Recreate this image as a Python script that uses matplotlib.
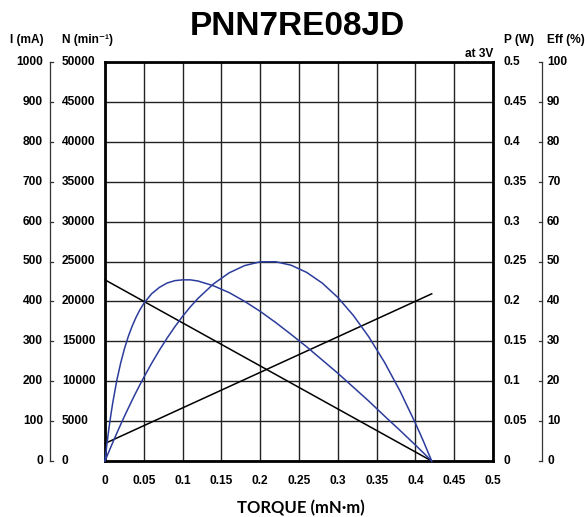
import matplotlib
matplotlib.use("Agg")
import matplotlib.pyplot as plt

# data
torque = [0, 0.0025, 0.005, 0.0075, 0.01, 0.015, 0.02, 0.025, 0.03, 0.035,
          0.04, 0.045, 0.05, 0.06, 0.07, 0.08, 0.09, 0.10,
          0.11, 0.12, 0.14, 0.16, 0.18, 0.20, 0.22, 0.24, 0.26, 0.28, 0.30,
          0.32, 0.34, 0.36, 0.38, 0.40, 0.41, 0.421]
power = [0, 0.0059, 0.0117, 0.0175, 0.0232, 0.0344, 0.0453, 0.0559, 0.0662,
         0.0763, 0.0861, 0.0955, 0.1047, 0.1223, 0.1387,
         0.1540, 0.1682, 0.1813, 0.1932, 0.2039, 0.2221, 0.2358, 0.2449,
         0.2496, 0.2497, 0.2453, 0.2363, 0.2229, 0.2050, 0.1825, 0.1555,
         0.1240, 0.0880, 0.0474, 0.0255, 0]
efficiency = [0, 4.3, 8.1, 11.5, 14.6, 20.0, 24.4, 28.1, 31.2, 33.8, 36.0,
              37.9, 39.5, 41.9, 43.5, 44.6, 45.2,
              45.4, 45.4, 45.1, 43.9, 42.2, 40.0, 37.5, 34.7, 31.7, 28.6, 25.3,
              22.0, 18.5, 15.0, 11.3, 7.7, 4.0, 2.1, 0]
line_torque = [0, 0.421]
current = [44, 419]
speed = [22700, 0]

x_ticks = [0, 0.05, 0.1, 0.15, 0.2, 0.25, 0.3, 0.35, 0.4, 0.45, 0.5]
x_labels = ["0", "0.05", "0.1", "0.15", "0.2", "0.25", "0.3", "0.35", "0.4", "0.45", "0.5"]
i_ticks = [0, 100, 200, 300, 400, 500, 600, 700, 800, 900, 1000]
n_labels = ["0", "5000", "10000", "15000", "20000", "25000", "30000", "35000", "40000", "45000", "50000"]
p_labels = ["0", "0.05", "0.1", "0.15", "0.2", "0.25", "0.3", "0.35", "0.4", "0.45", "0.5"]
eff_labels = ["0", "10", "20", "30", "40", "50", "60", "70", "80", "90", "100"]

plt.rcParams['font.family'] = ['Liberation Sans', 'DejaVu Sans']
blue = "#2c3c9c"
fs = 8.6

fig = plt.figure(figsize=(5.85, 5.17), dpi=100)
ax = fig.add_axes([105 / 585, 56 / 517, 388 / 585, 399 / 517])
ax.set_xlim(0, 0.5)
ax.set_ylim(0, 1000)

ax.set_xticks(x_ticks)
ax.set_xticklabels(x_labels, fontsize=fs, fontweight='bold')
ax.set_yticks(i_ticks)
ax.set_yticklabels([])
ax.tick_params(length=0, pad=10)
ax.grid(color="#222222", lw=1)
for s in ax.spines.values():
    s.set_linewidth(2)

# other quantities share the same grid, scaled onto the current axis
ax_n = ax.twinx()
ax_n.set_ylim(0, 50000)
ax_p = ax.twinx()
ax_p.set_ylim(0, 0.5)
ax_e = ax.twinx()
ax_e.set_ylim(0, 100)
for a in (ax_n, ax_p, ax_e):
    a.set_yticks([])
    a.axis('off')

ax.plot(line_torque, current, color="black", lw=1.1, clip_on=False)
ax_n.plot(line_torque, speed, color="black", lw=1.1, clip_on=False)
ax_p.plot(torque, power, color=blue, lw=1.1, clip_on=False)
ax_e.plot(torque, efficiency, color=blue, lw=1.1, clip_on=False)

tr = ax.get_yaxis_transform()
w = 388.0
def fx(px):
    return (px - 105) / w

for i, v in enumerate(i_ticks):
    ax.text(fx(43), v, str(v), transform=tr, ha='right', va='center',
            fontsize=fs, fontweight='bold')
    ax.text(fx(62), v, n_labels[i], transform=tr, ha='left', va='center',
            fontsize=fs, fontweight='bold')
    ax.text(fx(504), v, p_labels[i], transform=tr, ha='left', va='center',
            fontsize=fs, fontweight='bold')
    ax.text(fx(547), v, eff_labels[i], transform=tr, ha='left', va='center',
            fontsize=fs, fontweight='bold')
    ax.plot([fx(49.5), fx(53)], [v, v], transform=tr, color="#333333",
            lw=0.9, clip_on=False)
    ax.plot([fx(538.5), fx(542)], [v, v], transform=tr, color="#333333",
            lw=0.9, clip_on=False)

ax.plot([fx(49.5), fx(49.5)], [0, 1000], transform=tr, color="#333333",
        lw=0.9, clip_on=False)
ax.plot([fx(542), fx(542)], [0, 1000], transform=tr, color="#333333",
        lw=0.9, clip_on=False)

fig.text(10 / 585, 1 - 40 / 517, "I (mA)", ha='left', va='center',
         fontsize=fs, fontweight='bold')
fig.text(62 / 585, 1 - 40 / 517, "N (min\u207b\u00b9)", ha='left', va='center',
         fontsize=fs, fontweight='bold')
fig.text(504 / 585, 1 - 40 / 517, "P (W)", ha='left', va='center',
         fontsize=fs, fontweight='bold')
fig.text(547 / 585, 1 - 40 / 517, "Eff (%)", ha='left', va='center',
         fontsize=fs, fontweight='bold')
fig.text(493 / 585, 1 - 54 / 517, "at 3V", ha='right', va='center',
         fontsize=fs, fontweight='bold')

fig.text(297 / 585, 1 - 27 / 517, "PNN7RE08JD", ha='center', va='center',
         fontsize=24, fontweight='bold')
fig.text(301 / 585, 1 - 508 / 517, "TORQUE (mN\u00b7m)", ha='center', va='center',
         fontsize=12, fontweight='bold', family=['Lato', 'DejaVu Sans'])

fig.savefig("out.png", dpi=100)
